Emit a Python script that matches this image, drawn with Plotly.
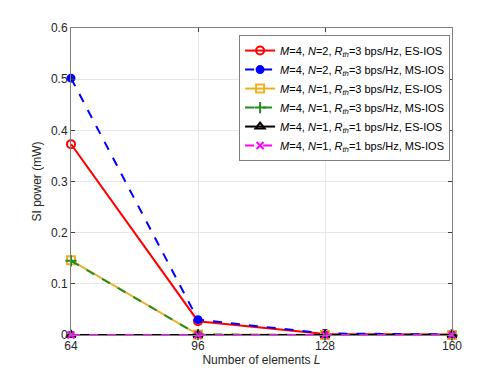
import plotly.graph_objs as go

# Number of elements L
L = [64, 96, 128, 160]

# SI power (mW) for each curve
es_n2_r3 = [0.373, 0.027, 0.002, 0.001]
ms_n2_r3 = [0.502, 0.030, 0.003, 0.001]
es_n1_r3 = [0.146, 0.001, 0.0, 0.0]
ms_n1_r3 = [0.145, 0.001, 0.0, 0.0]
es_n1_r1 = [0.0, 0.0, 0.0, 0.0]
ms_n1_r1 = [0.0, 0.0, 0.0, 0.0]

names = [
    '<i>M</i>=4, <i>N</i>=2, <i>R<sub>th</sub></i>=3 bps/Hz, ES-IOS',
    '<i>M</i>=4, <i>N</i>=2, <i>R<sub>th</sub></i>=3 bps/Hz, MS-IOS',
    '<i>M</i>=4, <i>N</i>=1, <i>R<sub>th</sub></i>=3 bps/Hz, ES-IOS',
    '<i>M</i>=4, <i>N</i>=1, <i>R<sub>th</sub></i>=3 bps/Hz, MS-IOS',
    '<i>M</i>=4, <i>N</i>=1, <i>R<sub>th</sub></i>=1 bps/Hz, ES-IOS',
    '<i>M</i>=4, <i>N</i>=1, <i>R<sub>th</sub></i>=1 bps/Hz, MS-IOS',
]
series = [es_n2_r3, ms_n2_r3, es_n1_r3, ms_n1_r3, es_n1_r1, ms_n1_r1]
colors = ['#FF0000', '#0000FF', '#EDB120', '#228B22', '#000000', '#FF00FF']
dashes = ['solid', 'dash', 'solid', 'dash', 'solid', 'dash']
symbols = ['circle-open', 'circle', 'square-open', 'cross-thin-open', 'triangle-up-open', 'x-thin-open']
msizes = [8, 7, 8, 8, 8, 7]

fig = go.Figure()
for nm, y, c, d, s, ms in zip(names, series, colors, dashes, symbols, msizes):
    fig.add_trace(go.Scatter(x=L, y=y, name=nm, mode='lines+markers',
                             line=dict(color=c, width=2, dash=d),
                             marker=dict(symbol=s, size=ms, color=c,
                                         line=dict(color=c, width=2)),
                             cliponaxis=False))

axis_style = dict(showline=True, linecolor='#808080', linewidth=1, mirror='ticks',
                  ticks='inside', ticklen=4, tickcolor='#404040',
                  showgrid=True, gridcolor='#E6E6E6', gridwidth=1, zeroline=False,
                  tickfont=dict(size=12, color='#262626'))

fig.update_xaxes(range=[64, 160], tickvals=[64, 96, 128, 160],
                 title=dict(text='Number of elements <i>L</i>', font=dict(size=12, color='#262626'), standoff=2),
                 **axis_style)
fig.update_yaxes(range=[0, 0.6], tickvals=[0, 0.1, 0.2, 0.3, 0.4, 0.5, 0.6],
                 ticktext=['0', '0.1', '0.2', '0.3', '0.4', '0.5', '0.6'],
                 title=dict(text='SI power (mW)', font=dict(size=12, color='#262626'), standoff=6),
                 **axis_style)

fig.update_layout(width=491, height=368, autosize=False,
                  margin=dict(l=63, r=47, t=20, b=41),
                  plot_bgcolor='white', paper_bgcolor='white',
                  font=dict(family='Liberation Sans, Arial, sans-serif', size=12, color='#262626'),
                  legend=dict(x=0.995, y=0.977, xanchor='right', yanchor='top',
                              bgcolor='white', bordercolor='#808080', borderwidth=1,
                              font=dict(size=11, color='#000000'),
                              tracegroupgap=0, itemwidth=30))

fig.write_html("out.html")
